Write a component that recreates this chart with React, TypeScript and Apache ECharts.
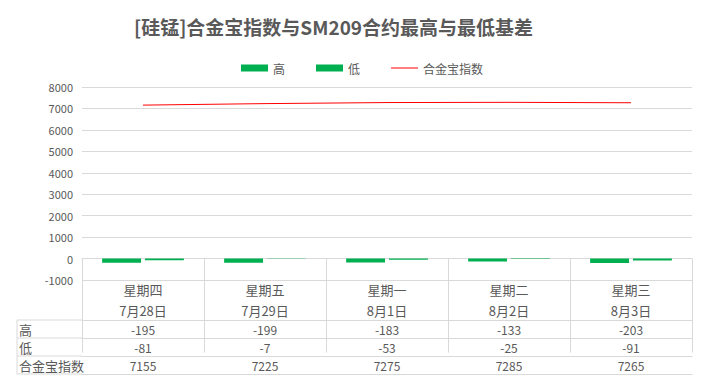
import React, { useEffect, useRef } from "react";
import * as echarts from "echarts";

const weekdays = ["星期四", "星期五", "星期一", "星期二", "星期三"];
const dates = ["7月28日", "7月29日", "8月1日", "8月2日", "8月3日"];
const highVals = [-195, -199, -183, -133, -203];
const lowVals = [-81, -7, -53, -25, -91];
const indexVals = [7155, 7225, 7275, 7285, 7265];
const rowNames = ["高", "低", "合金宝指数"];

const FONT = "'Noto Sans CJK SC', 'Noto Sans', sans-serif";
const GRID_LEFT = 82;
const GRID_RIGHT = 19;
const GRID_TOP = 87;
const GRID_BOTTOM_Y = 280;
const HEADER_H = 40;
const ROW_H = 18;
const LINE_COLOR = "#D9D9D9";
const TEXT_COLOR = "#595959";

export default function App() {
  const ref = useRef<HTMLDivElement>(null);
  useEffect(() => {
    if (!ref.current) return;
    const chart = echarts.init(ref.current, undefined, { renderer: "svg" });
    const H = 391;
    const rowsData = [highVals, lowVals, indexVals];
    const rowAxes = rowsData.map((vals, i) => ({
      type: "category",
      gridIndex: 0,
      position: "bottom",
      offset: HEADER_H + ROW_H * i,
      data: vals.map((v) => String(v)),
      axisLine: { show: true, lineStyle: { color: LINE_COLOR } },
      axisTick: { show: false },
      axisLabel: {
        show: true,
        margin: ROW_H / 2,
        verticalAlign: "middle",
        fontSize: 12,
        color: TEXT_COLOR,
        fontFamily: FONT,
      },
    }));
    const bottomAxis = {
      type: "category",
      gridIndex: 0,
      position: "bottom",
      offset: HEADER_H + ROW_H * 3,
      data: weekdays,
      axisLine: { show: true, lineStyle: { color: LINE_COLOR } },
      axisTick: { show: false },
      axisLabel: { show: false },
    };
    const graphics: any[] = [];
    const leftX = 17;
    const tableTop = GRID_BOTTOM_Y + HEADER_H;
    for (let i = 0; i <= 3; i++) {
      graphics.push({
        type: "line",
        shape: { x1: leftX, y1: tableTop + ROW_H * i, x2: GRID_LEFT, y2: tableTop + ROW_H * i },
        style: { stroke: LINE_COLOR, lineWidth: 1 },
      });
    }
    graphics.push({
      type: "line",
      shape: { x1: leftX, y1: tableTop, x2: leftX, y2: tableTop + ROW_H * 3 },
      style: { stroke: LINE_COLOR, lineWidth: 1 },
    });
    rowNames.forEach((n, i) => {
      graphics.push({
        type: "text",
        x: leftX + 2,
        y: tableTop + ROW_H * i + ROW_H / 2,
        style: {
          text: n,
          fill: TEXT_COLOR,
          font: `13px ${FONT}`,
          verticalAlign: "middle",
          align: "left",
        },
      });
    });

    chart.setOption({
      animation: false,
      backgroundColor: "#ffffff",
      title: {
        text: "[硅锰]合金宝指数与SM209合约最高与最低基差",
        left: 129,
        top: 12,
        textStyle: {
          fontFamily: FONT,
          fontSize: 19,
          fontWeight: "bold",
          color: "#595959",
        },
      },
      legend: {
        left: 236,
        top: 57,
        itemWidth: 27,
        itemHeight: 7,
        itemGap: 31,
        textStyle: { fontFamily: FONT, fontSize: 12, color: TEXT_COLOR },
        data: [
          { name: "高", icon: "rect" },
          { name: "低", icon: "rect" },
          { name: "合金宝指数", icon: "path://M0,0 L27,0 L27,1 L0,1 Z" },
        ],
      },
      grid: {
        left: GRID_LEFT,
        right: GRID_RIGHT,
        top: GRID_TOP,
        bottom: H - GRID_BOTTOM_Y,
        containLabel: false,
      },
      xAxis: [
        {
          type: "category",
          gridIndex: 0,
          position: "bottom",
          data: weekdays.map((w, i) => `${w}\n${dates[i]}`),
          axisLine: { show: true, lineStyle: { color: LINE_COLOR } },
          axisTick: {
            show: true,
            length: HEADER_H + ROW_H * 3,
            lineStyle: { color: LINE_COLOR },
          },
          axisLabel: {
            margin: HEADER_H / 2,
            verticalAlign: "middle",
            lineHeight: 21,
            fontSize: 13,
            color: TEXT_COLOR,
            fontFamily: FONT,
          },
        },
        ...rowAxes,
        bottomAxis,
      ],
      yAxis: {
        type: "value",
        min: -1000,
        max: 8000,
        interval: 1000,
        axisLine: { show: false },
        axisTick: { show: false },
        splitLine: { lineStyle: { color: LINE_COLOR } },
        axisLabel: {
          fontSize: 11,
          color: TEXT_COLOR,
          fontFamily: FONT,
          margin: 9,
          formatter: (v: number) => String(v),
        },
      },
      series: [
        {
          name: "高",
          type: "bar",
          data: highVals,
          barCategoryGap: "33%",
          barGap: "10%",
          itemStyle: { color: "#00B050" },
        },
        {
          name: "低",
          type: "bar",
          data: lowVals,
          itemStyle: { color: "#00B050" },
        },
        {
          name: "合金宝指数",
          type: "line",
          data: indexVals,
          symbol: "none",
          lineStyle: { color: "#FF0000", width: 1 },
          itemStyle: { color: "#FF0000" },
        },
      ],
      graphic: graphics,
    });
    return () => chart.dispose();
  }, []);
  return <div ref={ref} style={{ width: 711, height: 391, position: "absolute", left: 0, top: 0 }} />;
}
